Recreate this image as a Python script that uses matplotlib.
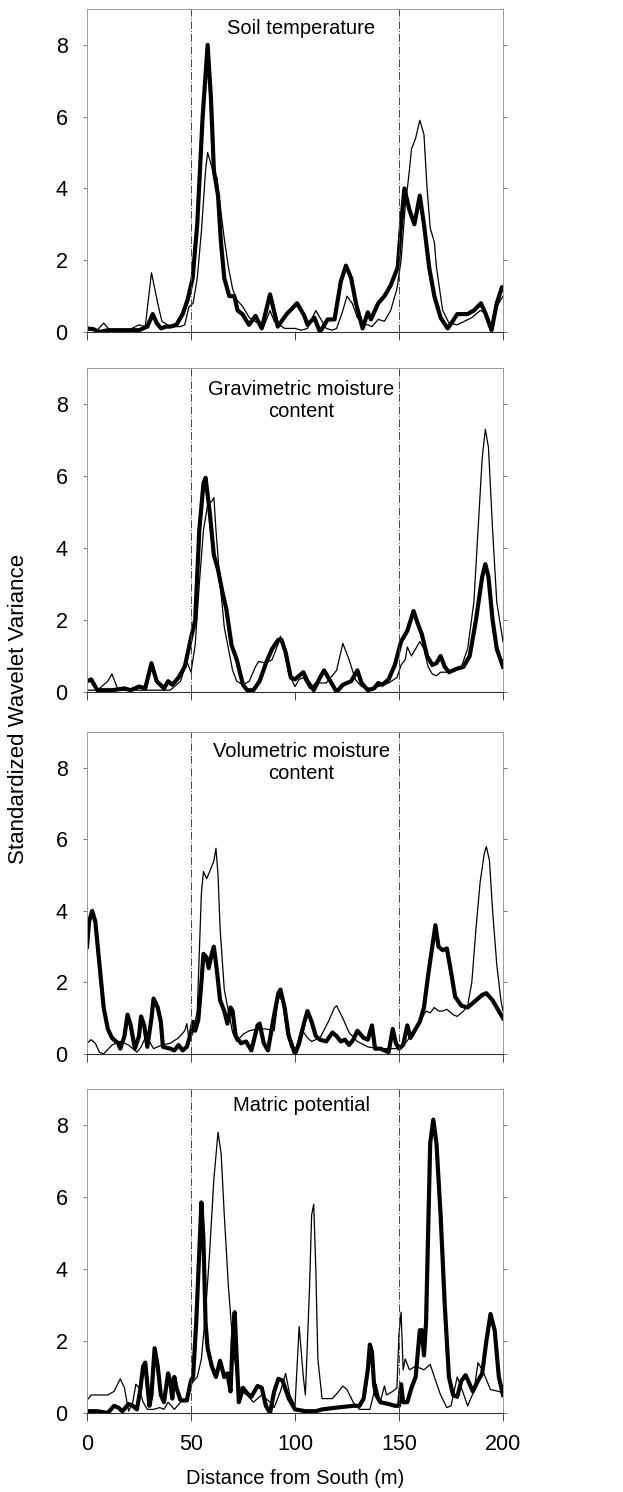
import numpy as np
import matplotlib.pyplot as plt

plt.rcParams['font.family'] = ['Liberation Sans', 'DejaVu Sans']

# Soil temperature
temp_thick_x = [0, 3, 6, 10, 15, 20, 25, 29, 31.6, 33.5, 35.6, 38, 40, 43, 46, 48.4, 50.8, 53, 55.6, 58, 59.6, 61, 63, 64.4, 66,
                68.4, 70.8, 72.4, 74.7, 77.9, 81, 84, 88, 91.7, 96, 101, 104.5, 106, 109.3, 112, 115.7, 119, 122, 124.5, 127,
                129.3, 132.5, 135, 136.5, 140, 143, 146, 149.4, 151, 152.6, 155, 157.4, 160, 162, 164.5, 167, 170, 173.4,
                175.8, 178, 183, 186, 189.4, 191.7, 194.5, 197, 199.5, 200]
temp_thick_y = [0.1, 0.08, 0.0, 0.05, 0.05, 0.05, 0.05, 0.15, 0.5, 0.25, 0.1, 0.15, 0.15, 0.2, 0.5, 0.9, 1.5, 3.0, 6.0, 8.0, 6.5, 4.5,
                3.8, 2.5, 1.5, 1.0, 1.0, 0.6, 0.5, 0.2, 0.45, 0.1, 1.05, 0.15, 0.5, 0.8, 0.45, 0.2, 0.4, 0.0, 0.35, 0.35, 1.4,
                1.85, 1.5, 0.8, 0.1, 0.55, 0.35, 0.8, 1.0, 1.3, 1.8, 3.0, 4.0, 3.4, 3.0, 3.8, 3.0, 1.8, 1.0, 0.4, 0.1, 0.3,
                0.5, 0.5, 0.6, 0.8, 0.5, 0.05, 0.8, 1.25, 1.2]
temp_thin_x = [0, 5, 8, 11, 15, 20, 25, 28, 31, 34, 36, 40, 45, 47, 49, 51, 53, 55, 57, 58, 59.5, 61, 62.5, 64.5, 66, 68, 70, 72,
               75, 78, 82, 85, 88, 90, 95, 100, 103, 106, 110, 112, 115, 118, 120, 123, 125, 127.5, 130, 133, 135, 137, 140,
               143, 146, 149, 151, 153, 155, 156, 158, 160, 162, 163.5, 165, 167, 168, 171, 174, 178, 185, 189, 191, 194,
               197, 200]
temp_thin_y = [0.05, 0.05, 0.25, 0.05, 0.05, 0.05, 0.2, 0.15, 1.65, 0.8, 0.3, 0.15, 0.15, 0.2, 0.7, 0.8, 1.5, 2.8, 4.5, 5.0, 4.7,
               4.4, 4.3, 3.3, 2.6, 1.8, 1.2, 0.9, 0.7, 0.4, 0.25, 0.15, 0.6, 0.3, 0.1, 0.1, 0.05, 0.1, 0.6, 0.4, 0.1, 0.05,
               0.1, 0.6, 1.0, 0.8, 0.4, 0.2, 0.2, 0.15, 0.35, 0.3, 0.6, 1.2, 2.0, 3.5, 4.5, 5.1, 5.4, 5.9, 5.5, 4.0, 2.9, 2.5,
               1.8, 0.6, 0.25, 0.2, 0.4, 0.6, 0.55, 0.05, 0.7, 1.0]

# Gravimetric moisture content
grav_thick_x = [0, 2, 5, 8, 12, 18, 21, 25, 28, 31, 33.5, 37, 39, 41, 44, 47, 50, 52, 54, 56, 57, 59, 61, 63, 65, 67, 69.5, 72,
                75, 77, 80, 83, 86, 89, 92, 93.5, 95.5, 98, 100, 104, 106, 109, 112, 114, 117, 120, 123, 127, 130, 132, 135,
                138, 140, 142, 145, 148, 151, 154, 157, 159, 161, 163.5, 166, 168, 170, 172, 174, 178, 181, 184, 187, 190,
                191.5, 193, 195, 197, 200]
grav_thick_y = [0.3, 0.35, 0.05, 0.05, 0.05, 0.1, 0.05, 0.15, 0.1, 0.8, 0.3, 0.1, 0.3, 0.2, 0.4, 0.7, 1.5, 2.0, 4.5, 5.8, 5.95,
                5.0, 3.8, 3.4, 2.8, 2.3, 1.3, 0.9, 0.2, 0.05, 0.05, 0.3, 0.8, 1.2, 1.45, 1.45, 1.1, 0.4, 0.35, 0.55, 0.3, 0.05,
                0.4, 0.6, 0.3, 0.0, 0.2, 0.3, 0.6, 0.25, 0.05, 0.1, 0.25, 0.2, 0.35, 0.75, 1.4, 1.7, 2.25, 1.9, 1.6, 1.0, 0.75,
                0.8, 1.0, 0.7, 0.55, 0.65, 0.7, 1.0, 2.0, 3.2, 3.55, 3.2, 2.0, 1.2, 0.7]
grav_thin_x = [0, 5, 10, 12, 15, 20, 30, 40, 45, 48, 50, 52, 54, 56, 58, 60, 61, 62, 64, 66, 68, 70, 72, 75, 78, 81, 82.5, 86,
               89, 92, 93, 95, 97, 100, 102, 104, 107, 110, 115, 120, 123, 126, 129, 132, 136, 140, 145, 149, 151, 153, 154,
               156, 158, 160, 162, 164, 166, 168, 170, 174, 180, 183, 186, 188, 190, 191.5, 193, 195, 197, 200]
grav_thin_y = [0.05, 0.05, 0.3, 0.5, 0.05, 0.05, 0.05, 0.05, 0.3, 0.85, 0.55, 1.3, 3.0, 4.5, 5.2, 5.3, 5.4, 4.5, 3.0, 1.8, 1.2,
               0.6, 0.3, 0.2, 0.3, 0.7, 0.85, 0.8, 0.9, 1.35, 1.55, 1.1, 0.5, 0.15, 0.35, 0.4, 0.1, 0.25, 0.25, 0.6, 1.35,
               0.9, 0.35, 0.15, 0.1, 0.15, 0.25, 0.4, 0.75, 0.9, 1.25, 1.0, 1.2, 1.4, 1.2, 0.7, 0.5, 0.45, 0.55, 0.55, 0.7,
               1.2, 2.5, 4.5, 6.5, 7.3, 6.8, 4.5, 2.5, 1.4]

# Volumetric moisture content
vol_thick_x = [0, 1, 2.5, 4, 6, 8, 10, 12, 15, 16, 18, 19.5, 21, 23, 25, 26, 27.5, 29, 31, 32, 34, 35.5, 36.5, 40, 42, 44, 46,
               48, 50, 51, 52, 53.5, 55, 56, 57.5, 58.5, 60, 61, 62.5, 64, 66, 67.5, 69, 70, 71.5, 74, 76.5, 79, 82, 83, 85,
               87, 90, 92, 93, 95, 97, 100, 102, 104.5, 106, 108, 110, 112, 115, 118, 120, 122, 124, 126, 128, 130, 133, 135,
               137, 138.5, 141, 143, 145, 147, 148.5, 150, 152, 154, 155.5, 157, 160, 162, 164, 166, 167.5, 169, 171, 173,
               175, 177, 180, 183, 186, 190, 192, 195, 198, 200]
vol_thick_y = [3.0, 3.7, 4.0, 3.7, 2.5, 1.3, 0.7, 0.45, 0.3, 0.15, 0.5, 1.1, 0.8, 0.15, 0.5, 1.05, 0.8, 0.2, 1.0, 1.55, 1.3, 0.9,
               0.2, 0.15, 0.1, 0.25, 0.1, 0.2, 0.6, 0.9, 0.65, 0.95, 2.0, 2.8, 2.7, 2.4, 2.8, 3.0, 2.3, 1.5, 1.2, 0.85, 1.3,
               1.2, 0.5, 0.3, 0.35, 0.1, 0.8, 0.85, 0.3, 0.1, 1.1, 1.7, 1.8, 1.3, 0.5, 0.0, 0.3, 0.9, 1.2, 0.9, 0.5, 0.4, 0.35,
               0.6, 0.5, 0.35, 0.4, 0.25, 0.4, 0.65, 0.45, 0.4, 0.8, 0.15, 0.15, 0.1, 0.05, 0.7, 0.3, 0.15, 0.25, 0.8, 0.45,
               0.6, 0.9, 1.3, 2.2, 3.0, 3.6, 3.0, 2.9, 2.95, 2.3, 1.6, 1.35, 1.3, 1.45, 1.65, 1.7, 1.5, 1.2, 1.0]
vol_thin_x = [0, 2, 4, 6, 8, 12, 16, 20, 24, 26, 28, 30, 32, 36, 40, 44, 47, 48, 49, 51, 53, 55, 56, 57.5, 59, 61, 62, 63, 64,
              66, 68, 70, 72, 75, 78, 82, 86, 90, 92, 94, 96, 98, 100, 103, 106, 108, 112, 116, 119, 120, 123, 126, 130, 135,
              140, 145, 150, 153, 157, 160, 163, 165, 167, 169, 171, 173, 176, 178, 181, 183, 185, 187, 189, 191, 192, 193.5,
              195, 197, 199, 200]
vol_thin_y = [0.3, 0.4, 0.3, 0.05, 0.0, 0.25, 0.35, 0.25, 0.05, 0.2, 0.45, 0.35, 0.15, 0.25, 0.3, 0.45, 0.65, 0.85, 0.4, 0.6,
              1.2, 4.5, 5.1, 4.9, 5.1, 5.4, 5.75, 5.0, 3.5, 1.8, 1.2, 0.6, 0.35, 0.55, 0.65, 0.7, 0.7, 0.65, 1.6, 1.5, 0.6,
              0.2, 0.05, 0.7, 0.45, 0.35, 0.45, 0.9, 1.3, 1.35, 1.0, 0.6, 0.35, 0.2, 0.15, 0.15, 0.15, 0.3, 0.6, 0.9, 1.2,
              1.15, 1.3, 1.2, 1.2, 1.25, 1.1, 1.05, 1.2, 1.35, 2.0, 3.5, 4.8, 5.6, 5.8, 5.4, 4.0, 2.5, 1.5, 1.2]

# Matric potential
mat_thick_x = [0, 5, 10, 13, 15, 17, 20, 22, 24, 25.5, 27, 28, 29, 30, 31, 32.5, 34, 35.5, 37, 39, 40, 41, 42, 43, 45, 48, 50,
               51, 52.5, 54, 55, 56, 57, 58, 60, 62, 64, 66, 67.5, 69, 70, 71, 72, 73, 75, 77, 79, 82, 84, 86, 88, 90, 92,
               94, 97, 100, 105, 110, 113, 120, 128, 131, 133, 135, 136, 137, 138, 139, 141, 145, 148, 150, 151, 152, 154,
               156, 158, 160, 161, 162, 163, 164, 165, 166.5, 168, 170, 172, 174, 176, 178, 180, 182, 184, 185.5, 188, 190,
               192, 194, 196, 198, 200]
mat_thick_y = [0.05, 0.05, 0.0, 0.2, 0.15, 0.05, 0.25, 0.2, 0.1, 0.6, 1.3, 1.4, 0.8, 0.2, 0.5, 1.8, 1.3, 0.5, 0.3, 1.1, 0.9, 0.4,
               1.0, 0.7, 0.35, 0.35, 0.9, 1.0, 2.5, 4.5, 5.85, 4.8, 2.5, 1.8, 1.3, 1.0, 1.45, 1.0, 1.1, 0.6, 2.0, 2.8, 1.5,
               0.3, 0.7, 0.55, 0.45, 0.75, 0.7, 0.2, 0.0, 0.6, 0.95, 0.9, 0.4, 0.1, 0.05, 0.05, 0.1, 0.15, 0.2, 0.2, 0.4, 1.2,
               1.9, 1.7, 0.8, 0.5, 0.3, 0.25, 0.2, 0.2, 0.8, 0.3, 0.3, 0.7, 1.0, 2.3, 2.3, 1.6, 2.5, 5.0, 7.5, 8.15, 7.5,
               5.5, 3.0, 1.0, 0.5, 0.45, 0.9, 1.05, 0.8, 0.6, 0.9, 1.1, 2.0, 2.75, 2.3, 1.0, 0.5]
mat_thin_x = [0, 2, 10, 13, 16, 18, 20, 22, 23.5, 25, 27, 29, 32, 35, 37, 39, 42, 45, 48, 50, 53, 55, 57, 59, 61, 63, 64.5, 66,
              68, 70, 72, 74, 77, 80, 84, 88, 90, 93, 95.5, 97.5, 100, 102, 104, 105, 107, 108, 109, 110, 111, 113, 118, 121,
              123, 125, 128, 131, 136, 139, 141, 143, 144, 147, 149, 150, 151, 152, 153, 155, 158, 162, 165, 167, 170, 173,
              175, 178, 180, 183, 186, 188, 190, 194, 198, 200]
mat_thin_y = [0.35, 0.5, 0.5, 0.6, 0.95, 0.7, 0.05, 0.3, 0.8, 0.7, 0.3, 0.1, 0.1, 0.15, 0.1, 0.3, 0.1, 0.3, 0.4, 0.8, 1.0, 1.5,
              2.8, 4.5, 6.5, 7.8, 7.2, 5.5, 3.5, 2.0, 1.0, 0.6, 0.5, 0.3, 0.5, 0.3, 0.15, 0.6, 1.1, 0.5, 0.2, 2.4, 1.0, 0.5,
              3.5, 5.5, 5.8, 4.0, 1.5, 0.4, 0.4, 0.6, 0.75, 0.65, 0.3, 0.1, 0.1, 0.8, 0.3, 0.75, 0.5, 0.6, 0.7, 2.2, 2.8,
              1.2, 1.5, 1.2, 1.3, 1.2, 1.35, 1.0, 0.5, 0.15, 0.2, 1.0, 0.7, 0.2, 0.6, 1.4, 1.2, 0.65, 0.6, 0.55]

titulos = ["Soil temperature", "Gravimetric moisture\ncontent", "Volumetric moisture\ncontent", "Matric potential"]
gruesas = [(temp_thick_x, temp_thick_y), (grav_thick_x, grav_thick_y), (vol_thick_x, vol_thick_y), (mat_thick_x, mat_thick_y)]
finas = [(temp_thin_x, temp_thin_y), (grav_thin_x, grav_thin_y), (vol_thin_x, vol_thin_y), (mat_thin_x, mat_thin_y)]
limites = [50, 150]

# posiciones de los paneles en pixeles (arriba, abajo)
paneles = [(9, 332), (368, 692), (732, 1054), (1089, 1413)]
title_y = [0.94, 0.90, 0.905, 0.95]

fig = plt.figure(figsize=(6.23, 14.92), dpi=100)
W, H = 623, 1492
for i in range(4):
    top, bot = paneles[i]
    ax = fig.add_axes([87 / W, 1 - bot / H, 416 / W, (bot - top) / H])
    ax.plot(*finas[i], color='black', lw=0.9)
    ax.plot(*gruesas[i], color='black', lw=3.0, solid_joinstyle='round')
    for xl in limites:
        ax.axvline(xl, color='#444444', lw=0.7, ls=(0, (8, 2, 1, 2)))
    ax.set_xlim(0, 200)
    ax.set_ylim(0, 9)
    ax.set_yticks([0, 2, 4, 6, 8])
    ax.set_xticks([0, 50, 100, 150, 200])
    for s in ['left', 'right', 'top']:
        ax.spines[s].set_color('#999999')
        ax.spines[s].set_linewidth(0.7)
    ax.spines['bottom'].set_color('#333333')
    ax.spines['bottom'].set_linewidth(0.8)
    ax.tick_params(axis='y', direction='out', length=3, width=0.7, color='#777777',
                   labelsize=15.5, pad=11, right=True)
    ax.tick_params(axis='x', direction='out', length=6, width=0.7, color='#444444',
                   labelsize=15.5, pad=9)
    if i < 3:
        ax.set_xticklabels([])
    ax.text(103, title_y[i] * 9, titulos[i], ha='center', va='center', fontsize=14.5,
            linespacing=1.15)

fig.axes[-1].set_xlabel("Distance from South (m)", fontsize=14.5, labelpad=10)
fig.text(0.03, 0.525, "Standardized Wavelet Variance", rotation=90, ha='center', va='center', fontsize=16)

plt.savefig("out.png", dpi=100)
